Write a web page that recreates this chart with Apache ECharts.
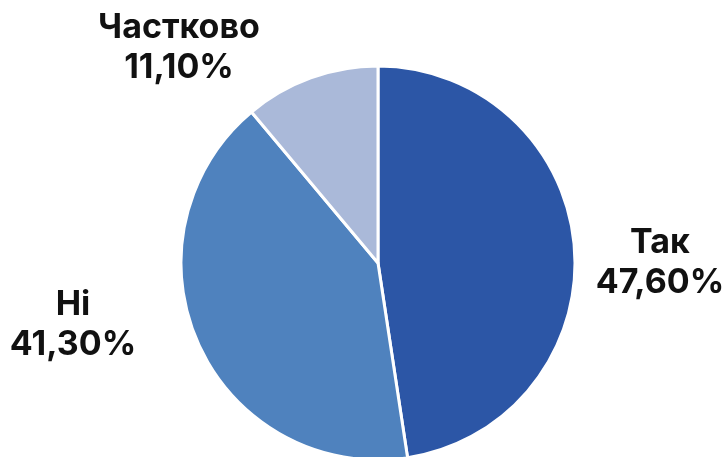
<!DOCTYPE html>
<html><head><meta charset="utf-8">
<script src="https://cdn.jsdelivr.net/npm/echarts@6/dist/echarts.min.js"></script>
<style>html,body{margin:0;padding:0;background:#fff}#c{width:726px;height:457px}</style>
</head><body><div id="c"></div>
<script>
const categories = ['Так', 'Ні', 'Частково'];
const values = [47.6, 41.3, 11.1];
const colors = ['#2C56A6', '#4F82BE', '#AAB9D9'];
const labelPos = [[660, 263], [73, 325], [179, 48]];

const chart = echarts.init(document.getElementById('c'));
chart.setOption({
  animation: false,
  series: [{
    type: 'pie',
    center: [378, 263],
    radius: 197,
    startAngle: 90,
    clockwise: true,
    data: categories.map((n, i) => ({name: n, value: values[i], itemStyle: {color: colors[i]}})),
    itemStyle: {borderColor: '#fff', borderWidth: 3},
    label: {
      show: true,
      position: 'outside',
      overflow: 'none',
      formatter: p => p.name + '\n' + p.value.toFixed(2).replace('.', ',') + '%',
      fontFamily: 'Inter',
      fontWeight: 700,
      fontSize: 34,
      lineHeight: 40,
      color: '#111',
      align: 'center'
    },
    labelLine: {show: false},
    labelLayout: p => ({x: labelPos[p.dataIndex][0], y: labelPos[p.dataIndex][1], align: 'center', verticalAlign: 'middle', width: 300})
  }]
});
</script></body></html>
